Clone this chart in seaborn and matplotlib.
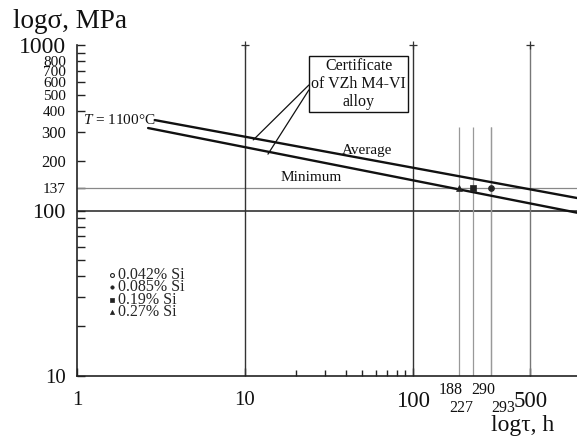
import matplotlib
matplotlib.use("Agg")
import matplotlib.pyplot as plt
import seaborn as sns
import pandas as pd

# ---------------- data ----------------
avg_tau = [2.9, 947]
avg_sigma = [352, 119]
min_tau = [2.65, 947]
min_sigma = [315, 97]

ref_tau = [10, 100, 500]          # full-height vertical reference lines
test_tau = [188, 227, 290, 293]   # test durations (short vertical lines)
test_top = 320
ref_sigma = [100, 137]            # horizontal reference lines

si_labels = ["0.042% Si", "0.085% Si", "0.19% Si", "0.27% Si"]
si_tau = [293, 290, 227, 188]
si_sigma = [137, 137, 137, 137]

y_major = [10, 100, 137, 200, 300, 400, 500, 600, 700, 800, 1000]
y_major_labels = ["10", "100", "137", "200", "300", "400", "500", "600", "700", "800", "1000"]
y_minor = [20, 30, 40, 50, 60, 70, 80, 90, 900]
x_major = [1, 10, 100, 500]
x_major_labels = ["1", "10", "100", "500"]
x_minor = [20, 30, 40, 50, 60, 70, 80, 90]

# ---------------- style ----------------
sns.set_theme(style="white")
plt.rcParams["font.family"] = ["Liberation Serif", "DejaVu Serif"]
plt.rcParams["mathtext.fontset"] = "custom"
plt.rcParams["mathtext.rm"] = "Liberation Serif"
plt.rcParams["mathtext.it"] = "Liberation Serif:italic"

fig = plt.figure(figsize=(5.77, 4.37), dpi=100)
ax = fig.add_axes([77 / 577, 1 - 376 / 437, 500 / 577, 331 / 437])
ax.set_xscale("log")
ax.set_yscale("log")
ax.set_xlim(1, 947)
ax.set_ylim(10, 1000)

# reference lines
ax.hlines(ref_sigma[0], 1, 947, color="#222222", lw=1.1, zorder=1)
ax.hlines(ref_sigma[1], 1, 947, color="#888888", lw=0.9, zorder=1)
ax.vlines(ref_tau[:2], 10, 1000, color="#333333", lw=1.0, zorder=1)
ax.vlines(ref_tau[2:], 10, 1000, color="#777777", lw=1.0, zorder=1)
ax.plot(ref_tau, [1000] * len(ref_tau), ls="none", marker="+", ms=6, mew=0.9,
        color="#333333", clip_on=False)
ax.vlines(test_tau, 10, test_top, color="#999999", lw=0.9, zorder=1)

# main lines
df_avg = pd.DataFrame({"tau": avg_tau, "sigma": avg_sigma})
df_min = pd.DataFrame({"tau": min_tau, "sigma": min_sigma})
sns.lineplot(data=df_avg, x="tau", y="sigma", ax=ax, color="#111111", lw=1.7)
sns.lineplot(data=df_min, x="tau", y="sigma", ax=ax, color="#111111", lw=1.7)

# test points
styles = [
    dict(marker="o", facecolor="white", edgecolor="#222222", s=16, linewidth=0.8),
    dict(marker="o", facecolor="#222222", edgecolor="#222222", s=12, linewidth=0.5),
    dict(marker="s", facecolor="#222222", edgecolor="#222222", s=14, linewidth=0.5),
    dict(marker="^", facecolor="#222222", edgecolor="#222222", s=18, linewidth=0.5),
]
for lab, t, s, st in zip(si_labels, si_tau, si_sigma, styles):
    sns.scatterplot(x=[t], y=[s], ax=ax, label=lab, zorder=3, **st)

leg = ax.legend(loc="upper left", bbox_to_anchor=(0.062, 0.33), frameon=False,
                fontsize=11.5, handlelength=0.5, handletextpad=0.15,
                labelspacing=-0.22, borderpad=0, borderaxespad=0, markerscale=0.7)

# ticks
ax.set_yticks(y_major, y_major_labels)
ax.yaxis.set_minor_locator(matplotlib.ticker.FixedLocator(y_minor))
ax.yaxis.set_minor_formatter(matplotlib.ticker.NullFormatter())
ax.set_xticks(x_major, x_major_labels)
ax.xaxis.set_minor_locator(matplotlib.ticker.FixedLocator(x_minor))
ax.xaxis.set_minor_formatter(matplotlib.ticker.NullFormatter())
ax.tick_params(axis="y", which="both", direction="in", length=6, width=1.0,
               color="#222222", pad=8, left=True)
ax.tick_params(axis="x", which="major", direction="in", length=6, width=1.0,
               color="#222222", pad=11, bottom=True)
ax.tick_params(axis="x", which="minor", direction="in", length=4, width=1.0,
               color="#222222", bottom=True)
ysizes = {"10": 15, "100": 16, "1000": 17, "137": 11, "200": 12, "300": 12}
for lbl in ax.get_yticklabels():
    lbl.set_fontsize(ysizes.get(lbl.get_text(), 11))
    lbl.set_color("#111111")
xsizes = {"1": 15, "10": 15, "100": 16.5, "500": 16.5}
for lbl in ax.get_xticklabels():
    lbl.set_fontsize(xsizes.get(lbl.get_text(), 15))
    lbl.set_color("#111111")

for sp in ["top", "right"]:
    ax.spines[sp].set_visible(False)
for sp in ["left", "bottom"]:
    ax.spines[sp].set_color("#222222")
    ax.spines[sp].set_linewidth(1.2)
ax.set_xlabel("")
ax.set_ylabel("")

# staggered labels for test durations
offsets = [(-5.8, -10), (-8, -23), (-5.5, -10), (8.4, -23)]
for t, (dx, dy) in zip(test_tau, offsets):
    ax.annotate(str(t), xy=(t, 0), xycoords=ax.get_xaxis_transform(),
                xytext=(dx, dy), textcoords="offset points",
                ha="center", va="center", fontsize=11.5, color="#111111",
                annotation_clip=False)

# text labels
ax.text(1.086, 352, r"$T$ = 1100°C", fontsize=11, ha="left", va="center", color="#111111")
ax.text(53.2, 232, "Average", fontsize=11, ha="center", va="center", color="#111111")
ax.text(24.7, 159, "Minimum", fontsize=11, ha="center", va="center", color="#111111")
ax.text(47.4, 581, "Certificate\nof VZh M4-VI\nalloy", fontsize=11.5, ha="center",
        va="center", linespacing=1.15, color="#111111",
        bbox=dict(boxstyle="square,pad=0.12", fc="white", ec="#111111", lw=1.0))
ax.annotate("", xy=(11.2, 267), xytext=(24.0, 573),
            arrowprops=dict(arrowstyle="-", color="#111111", lw=0.9, shrinkA=0, shrinkB=0))
ax.annotate("", xy=(13.7, 219), xytext=(24.0, 535),
            arrowprops=dict(arrowstyle="-", color="#111111", lw=0.9, shrinkA=0, shrinkB=0))

fig.text(13 / 577, 1 - 22 / 437, "logσ, MPa", fontsize=19.5, ha="left", va="center", color="#111111")
fig.text(523 / 577, 1 - 425 / 437, "logτ, h", fontsize=17, ha="center", va="center", color="#111111")

fig.savefig("out.png", dpi=100)
